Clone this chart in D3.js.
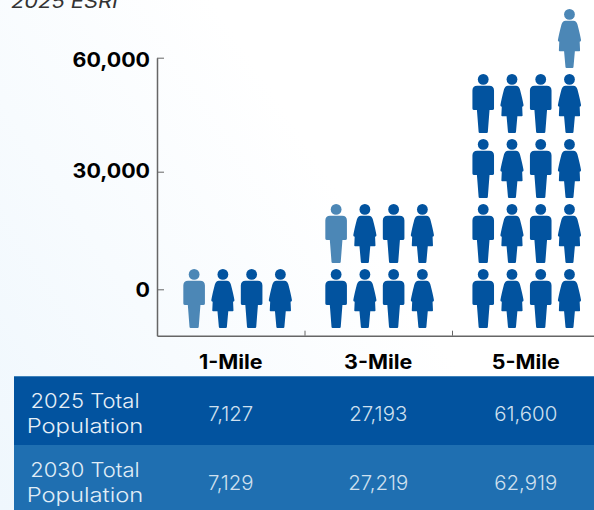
<!DOCTYPE html>
<html>
<head>
<meta charset="utf-8">
<script src="https://cdn.jsdelivr.net/npm/d3@7"></script>
<style>
  html, body { margin: 0; padding: 0; background: #fff; overflow: hidden; }
  svg { display: block; font-family: Inter, "Open Sans", sans-serif; }
</style>
</head>
<body>
<svg id="chart" width="594" height="510"></svg>
<script>
// data
const categories = ["1-Mile", "3-Mile", "5-Mile"];
const yTicks = [0, 30000, 60000];
const pop2025 = [7127, 27193, 61600];
const pop2030 = [7129, 27219, 62919];
const fullRows = [0, 1, 4];              // rows of four figures
const lastRowCols = [[0, 1, 2, 3], [0, 1, 2, 3], [3]];   // columns used in the top row
const lightCol = [0, 0, 3];              // pale figure in the top row
const rowLabels = [["2025 Total", "Population"], ["2030 Total", "Population"]];

const DARK = "#02539f", LIGHT = "#4c87b6", ROW2 = "#1f6fb1", AXIS = "#666";

const svg = d3.select("#chart");
const defs = svg.append("defs");

const grad = defs.append("linearGradient").attr("id", "bg")
    .attr("x1", 0.7).attr("y1", 0.6).attr("x2", 0).attr("y2", 1);
grad.append("stop").attr("offset", 0).attr("stop-color", "#fff");
grad.append("stop").attr("offset", 1).attr("stop-color", "#eff7fd");
svg.append("rect").attr("width", 594).attr("height", 510).attr("fill", "url(#bg)");

// scales
const x = d3.scaleBand().domain(categories).range([157, 599.5]);
const y = d3.scaleLinear().domain([-12000, 0, 30000, 60000]).range([335.7, 289.3, 171.7, 57.7]);
const rowY = d3.scaleLinear().domain([0, 4]).range([328, 68]);
const colX = d3.scaleBand().domain([0, 1, 2, 3]).range([-57.5, 57.5]);
const groupNudge = [6.5, 1, 0.6];
const tickNudge = [0.7, -1, 2.8];

// stretch text sideways, the installed fonts are narrower than the original
function stretch(sel, k) {
    sel.each(function(d, i) {
        const f = Array.isArray(k) ? k[i] : k;
        this.setAttribute("textLength", this.getComputedTextLength() * f);
        this.setAttribute("lengthAdjust", "spacingAndGlyphs");
    });
}

// title, cut by the top of the page
svg.append("text").attr("x", 11).attr("y", 8)
    .attr("font-size", 19).attr("font-style", "italic").attr("fill", "#333")
    .text("2025 ESRI").call(stretch, 1.15);

// axes
const yAxis = svg.append("g").attr("transform", "translate(157,0)")
    .call(d3.axisLeft(y).tickValues(yTicks).tickSize(-7).tickSizeOuter(0).tickPadding(7)
        .tickFormat(d3.format(",")));
const xAxis = svg.append("g").attr("transform", "translate(0,335.7)")
    .call(d3.axisBottom(x).tickValues(categories.slice(1)).tickSize(-5).tickSizeOuter(0)
        .tickFormat(""));
xAxis.selectAll(".tick").attr("transform", d => "translate(" + (x(d) + 0.5) + ",0)");

[yAxis, xAxis].forEach(a => {
    a.select(".domain").attr("stroke", AXIS).attr("stroke-width", 1.5);
    a.selectAll("line").attr("stroke", AXIS);
});
yAxis.selectAll("text")
    .attr("font-family", "Inter").attr("font-size", 20).attr("font-weight", 700)
    .attr("fill", "#000").attr("text-anchor", "end")
    .attr("y", (d, i) => tickNudge[i])
    .call(stretch, 1.07);

// figures: origin at the feet, centred
const manPath = "M-6,-47.3H6Q10.8,-47.3 10.8,-42.5V-24.5Q10.8,-23 9,-23H6.3L4.6,-1Q4.5,0 3.5,0H-3.5Q-4.5,0 -4.6,-1L-6.3,-23H-9Q-10.8,-23 -10.8,-24.5V-42.5Q-10.8,-47.3 -6,-47.3Z";
const womanPath = "M-4,-47.3H4Q7,-47.3 8,-43.5Q10.5,-34 11.6,-27.8Q11.6,-26.8 10.2,-26.2L10.6,-17.4Q10.6,-16.7 9.8,-16.7H5.4L4,-1Q3.9,0 3,0H-3Q-3.9,0 -4,-1L-5.4,-16.7H-9.8Q-10.6,-16.7 -10.6,-17.4L-10.2,-26.2Q-11.6,-26.8 -11.6,-27.8Q-10.5,-34 -8,-43.5Q-7,-47.3 -4,-47.3Z";

const figures = [];
categories.forEach((cat, i) => {
    d3.range(fullRows[i]).forEach(r => {
        d3.range(4).forEach(c => figures.push({cat: i, row: r, col: c, light: false}));
    });
    lastRowCols[i].forEach(c => {
        figures.push({cat: i, row: fullRows[i], col: c, light: c === lightCol[i]});
    });
});

const fig = svg.append("g").selectAll("g").data(figures).enter().append("g")
    .attr("transform", d => "translate(" +
        (x(categories[d.cat]) + x.bandwidth() / 2 + groupNudge[d.cat] + colX(d.col) + colX.bandwidth() / 2) +
        "," + rowY(d.row) + ")")
    .attr("fill", d => d.light ? LIGHT : DARK);
fig.append("circle").attr("cy", -53.6).attr("r", 5.4);
fig.append("path").attr("d", d => d.col % 2 === 0 ? manPath : womanPath);

// category labels
svg.append("g").selectAll("text").data(categories).enter().append("text")
    .attr("x", d => x(d) + x.bandwidth() / 2)
    .attr("y", 369).attr("text-anchor", "middle")
    .attr("font-size", 19.5).attr("font-weight", 700).attr("fill", "#000")
    .text(d => d).call(stretch, 1.1);

// table under the chart
const rowTop = d3.scaleBand().domain([0, 1]).range([376.5, 513.5]);
const rowFill = [DARK, ROW2];
const rowValues = [pop2025, pop2030];

svg.append("g").selectAll("rect").data(rowFill).enter().append("rect")
    .attr("x", 14).attr("y", (d, i) => rowTop(i))
    .attr("width", 580).attr("height", rowTop.bandwidth())
    .attr("fill", d => d);
svg.append("line").attr("x1", 14).attr("x2", 594).attr("y1", 376.5).attr("y2", 376.5)
    .attr("stroke", "#3f82ba");

rowLabels.forEach((lines, r) => {
    const top = rowTop(r);
    svg.append("g").selectAll("text").data(lines).enter().append("text")
        .attr("x", 85).attr("y", (d, i) => top + 31.5 + i * 25)
        .attr("text-anchor", "middle").attr("font-size", 20).attr("font-weight", 300)
        .attr("fill", r === 0 ? "#e6eff7" : "#e0edf7")
        .text(d => d).call(stretch, [1.1, 1.19]);
    svg.append("g").selectAll("text").data(rowValues[r]).enter().append("text")
        .attr("x", (d, i) => x(categories[i]) + x.bandwidth() / 2)
        .attr("y", top + 44.5)
        .attr("text-anchor", "middle").attr("font-size", 20).attr("font-weight", 300)
        .attr("fill", "#cfe0ef")
        .text(d => d3.format(",")(d)).call(stretch, 1.02);
});
</script>
</body>
</html>
